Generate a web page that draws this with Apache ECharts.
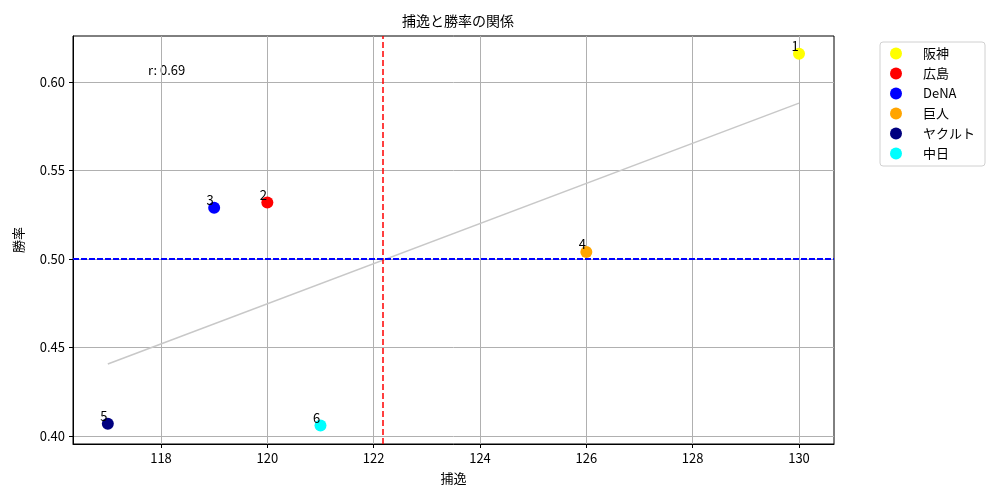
<!DOCTYPE html>
<html>
<head>
<meta charset="utf-8">
<script src="https://cdn.jsdelivr.net/npm/echarts@6/dist/echarts.min.js"></script>
<style>
  html, body { margin: 0; padding: 0; background: #fff; }
  #main { width: 1000px; height: 500px; }
</style>
</head>
<body>
<div id="main"></div>
<script>
// data
var teams = ['阪神', '広島', 'DeNA', '巨人', 'ヤクルト', '中日'];
var ranks = [1, 2, 3, 4, 5, 6];
var passedBalls = [130, 120, 119, 126, 117, 121];
var winRate = [0.616, 0.532, 0.529, 0.504, 0.407, 0.406];
var colors = ['#ffff00', '#ff0000', '#0000ff', '#ffa500', '#000080', '#00ffff'];
var trendX = [117, 130];
var trendY = [0.4407, 0.5881];
var xTicks = [118, 120, 122, 124, 126, 128, 130];
var yTicks = [0.40, 0.45, 0.50, 0.55, 0.60];
var rText = 'r: 0.69';

var font = '"Noto Sans CJK JP", "DejaVu Sans", sans-serif';

var meanX = passedBalls.reduce(function (a, b) { return a + b; }, 0) / passedBalls.length;
var meanY = winRate.reduce(function (a, b) { return a + b; }, 0) / winRate.length;

var myChart = echarts.init(document.getElementById('main'));

var series = teams.map(function (name, i) {
    return {
        name: name,
        type: 'scatter',
        symbol: 'circle',
        symbolSize: 12,
        z: 5,
        itemStyle: { color: colors[i], opacity: 1 },
        label: {
            show: true,
            position: 'top',
            distance: 0,
            offset: [-4, 5],
            color: '#000',
            fontSize: 13,
            fontFamily: font,
            formatter: String(ranks[i])
        },
        data: [[passedBalls[i], winRate[i]]]
    };
});

// regression line
series.push({
    name: 'trend',
    type: 'line',
    symbol: 'none',
    z: 2,
    lineStyle: { color: '#c8c8c8', width: 1.5 },
    data: [[trendX[0], trendY[0]], [trendX[1], trendY[1]]]
});

// mean lines
series.push({
    name: 'means',
    type: 'line',
    data: [],
    markLine: {
        silent: true,
        symbol: 'none',
        label: { show: false },
        z: 3,
        data: [
            { xAxis: meanX, lineStyle: { color: '#ff0000', type: [6, 3], width: 1.5 } },
            { yAxis: meanY, lineStyle: { color: '#0000ff', type: [6, 2], width: 1.8 } }
        ]
    }
});

myChart.setOption({
    animation: false,
    textStyle: { fontFamily: font },
    title: {
        text: '捕逸と勝率の関係',
        left: 453,
        top: 9,
        textAlign: 'center',
        textStyle: { fontSize: 14, fontWeight: 'normal', color: '#000', fontFamily: font }
    },
    legend: {
        data: teams,
        orient: 'vertical',
        left: 880,
        top: 42,
        icon: 'circle',
        itemWidth: 12,
        itemHeight: 12,
        itemGap: 7,
        padding: [5, 10, 6, 10],
        borderColor: '#d0d0d0',
        borderWidth: 1,
        borderRadius: 3,
        textStyle: { fontSize: 13, color: '#000', lineHeight: 13, padding: [0, 0, 0, 16], fontFamily: font }
    },
    grid: {
        left: 73,
        right: 166,
        top: 36,
        bottom: 56,
        show: true,
        borderColor: '#000',
        borderWidth: 1
    },
    xAxis: {
        type: 'value',
        min: 116.345,
        max: 130.658,
        name: '捕逸',
        nameLocation: 'middle',
        nameGap: 28,
        nameTextStyle: { fontSize: 13, color: '#000' },
        axisLine: { show: true, onZero: false, lineStyle: { color: '#000' } },
        axisTick: { show: true, length: 4, lineStyle: { color: '#000' }, customValues: xTicks },
        axisLabel: { color: '#000', fontSize: 13, margin: 8, customValues: xTicks },
        splitLine: { show: true, lineStyle: { color: '#b0b0b0', width: 1 } }
    },
    yAxis: {
        type: 'value',
        min: 0.3955,
        max: 0.626,
        name: '勝率',
        nameLocation: 'middle',
        nameGap: 48,
        nameRotate: 90,
        nameTextStyle: { fontSize: 13, color: '#000' },
        axisLine: { show: true, onZero: false, lineStyle: { color: '#000' } },
        axisTick: { show: true, length: 4, lineStyle: { color: '#000' }, customValues: yTicks },
        axisLabel: {
            color: '#000',
            fontSize: 13,
            margin: 8,
            customValues: yTicks,
            formatter: function (v) { return v.toFixed(2); }
        },
        splitLine: { show: true, lineStyle: { color: '#b0b0b0', width: 1 } }
    },
    graphic: [
        {
            type: 'text',
            left: 148,
            top: 64,
            style: { text: rText, fontSize: 13, fill: '#000', fontFamily: font }
        }
    ],
    series: series
});
</script>
</body>
</html>
